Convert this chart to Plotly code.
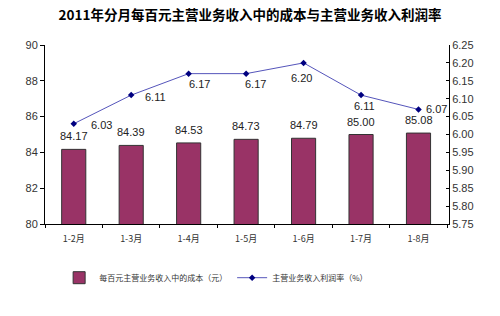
import plotly.graph_objects as go

categories = ["1-2月", "1-3月", "1-4月", "1-5月", "1-6月", "1-7月", "1-8月"]
cost_values = [84.17, 84.39, 84.53, 84.73, 84.79, 85.00, 85.08]
margin_values = [6.03, 6.11, 6.17, 6.17, 6.20, 6.11, 6.07]
cost_labels = ["84.17", "84.39", "84.53", "84.73", "84.79", "85.00", "85.08"]
margin_labels = ["6.03", "6.11", "6.17", "6.17", "6.20", "6.11", "6.07"]
left_ticks = [80, 82, 84, 86, 88, 90]
right_ticks = [5.75, 5.80, 5.85, 5.90, 5.95, 6.00, 6.05, 6.10, 6.15, 6.20, 6.25]

# label offsets in pixels (style only)
margin_label_dx = [28, 24, 11, 9, -2, 3, 18]
margin_label_dy = [-1, -2, -10, -10, -15, -11, 0]

num_font = "Liberation Sans, Arial, sans-serif"
cjk_font = "Noto Sans CJK SC, sans-serif"

fig = go.Figure()
fig.add_trace(go.Bar(
    x=categories, y=cost_values, name="每百元主营业务收入中的成本（元）",
    marker=dict(color="#993366", line=dict(color="#333333", width=1)),
    width=0.42,
))
fig.add_trace(go.Scatter(
    x=categories, y=margin_values, yaxis="y2", name="主营业务收入利润率（%）",
    mode="lines+markers",
    line=dict(color="#5555bb", width=1),
    marker=dict(color="#000080", size=5, symbol="diamond"),
    cliponaxis=False,
))

annotations = []
for c, v, t in zip(categories, cost_values, cost_labels):
    annotations.append(dict(x=c, y=v, xref="x", yref="y", text=t, showarrow=False,
                            yshift=13, font=dict(family=num_font, size=11, color="#222222")))
for c, v, t, dx, dy in zip(categories, margin_values, margin_labels, margin_label_dx, margin_label_dy):
    annotations.append(dict(x=c, y=v, xref="x", yref="y2", text=t, showarrow=False,
                            xshift=dx, yshift=dy, font=dict(family=num_font, size=11, color="#222222")))

fig.update_layout(
    width=500, height=316,
    margin=dict(l=45, r=51, t=45, b=92),
    paper_bgcolor="white", plot_bgcolor="white",
    title=dict(text="<b>2011年分月每百元主营业务收入中的成本与主营业务收入利润率</b>",
               x=0.5, xanchor="center", y=0.953, yanchor="middle",
               font=dict(family=cjk_font, size=13.5, color="#000000")),
    annotations=annotations,
    showlegend=True,
    legend=dict(orientation="h", x=0.035, xanchor="left", y=-0.3, yanchor="middle",
                font=dict(family=cjk_font, size=8, color="#333333"),
                tracegroupgap=0),
    xaxis=dict(type="category", showline=True, linecolor="#000000", linewidth=1,
               ticks="outside", ticklen=3, tickcolor="#000000", tickson="boundaries",
               ticklabelstandoff=6,
               tickfont=dict(family=cjk_font, size=9, color="#333333"),
               showgrid=False, mirror=False),
    yaxis=dict(range=[80, 90], tickvals=left_ticks, showline=True, linecolor="#000000",
               linewidth=1, ticks="outside", ticklen=4, tickcolor="#000000",
               tickfont=dict(family=num_font, size=11, color="#333333"),
               showgrid=False, zeroline=False),
    yaxis2=dict(range=[5.75, 6.25], tickvals=right_ticks, overlaying="y", side="right",
                tickformat=".2f", showline=True, linecolor="#000000", linewidth=1,
                ticks="inside", ticklen=3, tickcolor="#000000",
                tickfont=dict(family=num_font, size=11, color="#333333"),
                showgrid=False, zeroline=False),
)

fig.write_html("out.html")
